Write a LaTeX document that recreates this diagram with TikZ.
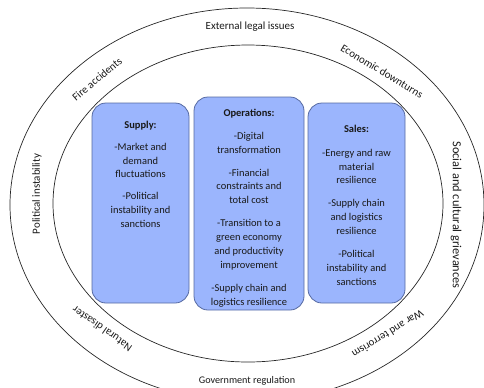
\documentclass[tikz,border=0pt]{standalone}
\usepackage{fontspec}
\setmainfont{Carlito}
\usetikzlibrary{positioning}
\definecolor{boxblue}{RGB}{155,181,253}
\definecolor{boxedge}{RGB}{86,106,162}
\tikzset{
  riskbox/.style={draw=boxedge, line width=0.8pt, fill=boxblue, rounded corners=14bp, inner sep=0pt},
  boxtext/.style={align=center, inner sep=0pt, text=black!90, font=\fontsize{10.5}{14}\selectfont},
  ringlabel/.style={inner sep=0pt, text=black!90, font=\fontsize{11}{12}\selectfont},
}

\begin{document}
\begin{tikzpicture}[x=1bp, y=-1bp]
			%%%%% START %%%%%
			\useasboundingbox (0, 0) rectangle (484, 387);
			\clip (0, 0) rectangle (484, 387);
			
			\draw[line width=0.7pt, color=black!85] (247, 205) ellipse [x radius=237, y radius=197];
			\draw[line width=0.7pt, color=black!85] (248, 203.5) ellipse [x radius=195, y radius=158.5];
			
			\node[riskbox, minimum width=97bp, minimum height=200bp] (supply) at (140.5, 203) {};
			\node[riskbox, minimum width=110bp, minimum height=213bp] (operations) at (249, 203.5) {};
			\node[riskbox, minimum width=97bp, minimum height=200bp] (sales) at (356.5, 203) {};
			
			\node[boxtext, below=18bp of supply.north] (supplytext) {\textbf{Supply:}\\[8bp] -Market and\\ demand\\ fluctuations\\[8bp] -Political\\ instability and\\ sanctions};
			\node[boxtext, below=12bp of operations.north] (operationstext) {\textbf{Operations:}\\[9bp] -Digital\\ transformation\\[9bp] -Financial\\ constraints and\\ total cost\\[9bp] -Transition to a\\ green economy\\ and productivity\\ improvement\\[9bp] -Supply chain and\\ logistics resilience};
			\node[boxtext, below=22bp of sales.north] (salestext) {\textbf{Sales:}\\[10bp] -Energy and raw\\ material\\ resilience\\[9bp] -Supply chain\\ and logistics\\ resilience\\[9bp] -Political\\ instability and\\ sanctions};
			
			\node[ringlabel] (legal) at (250, 27) {External legal issues};
			\node[ringlabel, font=\fontsize{10.2}{12}\selectfont] (government) at (247, 381) {Government regulation};
			\node[ringlabel] (political) [rotate=90] at (37, 194) {Political instability};
			\node[ringlabel, font=\fontsize{12.4}{14}\selectfont, rotate=-90] (social) at (456, 215) {Social and cultural grievances};
			\node[ringlabel, rotate=40] (fire) at (97, 79) {Fire accidents};
			\node[ringlabel, rotate=-31] (economic) at (382, 71) {Economic downturns};
			\node[ringlabel, rotate=145] (natural) at (102, 329) {Natural disaster};
			\node[ringlabel, rotate=-148] (war) at (388, 334) {War and terrorism};
			
			%%%%% END %%%%%
\end{tikzpicture}
\end{document}
